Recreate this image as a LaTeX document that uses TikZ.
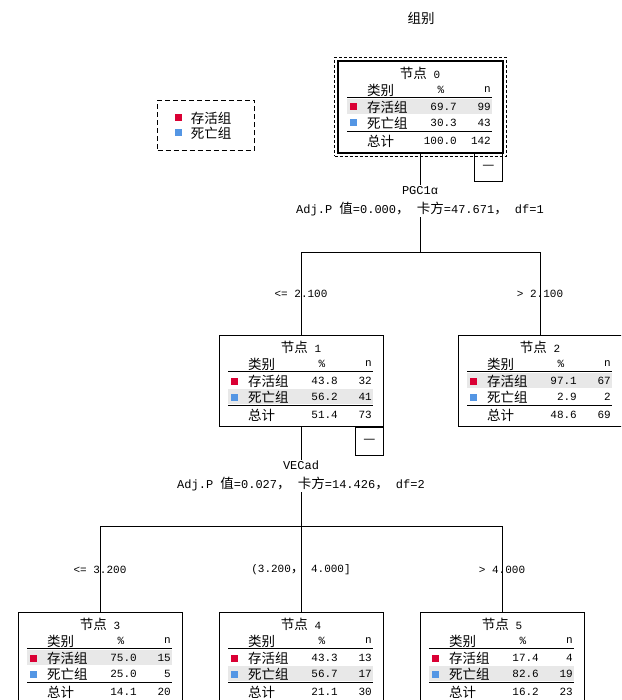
\documentclass[tikz,border=0pt]{standalone}
\usepackage{fontspec}
\setmainfont{Liberation Mono}
\newfontfamily\cjkfont{Noto Sans CJK SC}
\newcommand{\zh}{\cjkfont\fontsize{13.5}{16}\selectfont}
\newcommand{\lat}{\fontsize{11}{13}\selectfont}
\definecolor{SurvRed}{RGB}{218,0,52}
\definecolor{DeadBlue}{RGB}{84,150,228}
\definecolor{RowGray}{RGB}{232,232,232}
\usepackage{tikz}
\usetikzlibrary{positioning, fit, calc}

\tikzset{
  statbox/.style={draw, line width=0.8pt, minimum width=164pt, minimum height=91pt, anchor=north west, inner sep=0pt},
  foldbox/.style={draw, line width=0.8pt, minimum width=28pt, minimum height=28pt, inner sep=0pt, font=\zh},
  swatch/.style={minimum size=7pt, inner sep=0pt},
  cell/.style={inner sep=0pt},
  tabrule/.style={line width=0.8pt},
  edge/.style={line width=0.8pt},
  varlabel/.style={fill=white, align=center, inner sep=1pt, font=\fontsize{12}{19}\selectfont}
}

\begin{document}
\begin{tikzpicture}[x=1pt, y=-1pt, font=\lat]
\useasboundingbox (0,0) rectangle (621,700);
\clip (0,0) rectangle (621,700);

\node[cell, font=\zh] (title) at (421,18) {组别};

\node[draw, dash pattern=on 5pt off 3pt, line width=1pt, minimum width=97pt, minimum height=50pt, anchor=north west] (legend) at (157,100) {};
\node[swatch, fill=SurvRed] (lgA) at (178,118) {};
\node[cell, font=\zh, right=9pt of lgA] (lgAt) {存活组};
\node[swatch, fill=DeadBlue] (lgB) at (178,133) {};
\node[cell, font=\zh, right=9pt of lgB] (lgBt) {死亡组};

\foreach \id/\x/\y/\pa/\na/\pb/\nb/\pt/\nt/\sh in {
  0/338/61/69.7/99/30.3/43/100.0/142/1,
  1/219/335/43.8/32/56.2/41/51.4/73/2,
  2/458/335/97.1/67/2.9/2/48.6/69/1,
  3/18/612/75.0/15/25.0/5/14.1/20/1,
  4/219/612/43.3/13/56.7/17/21.1/30/2,
  5/420/612/17.4/4/82.6/19/16.2/23/2}{
  \begin{scope}[shift={(\x,\y)}]
    \pgfmathsetmacro{\shy}{\sh==1 ? 38 : 54}
    \fill[RowGray] (9,\shy) rectangle (154,{\shy+15});
    \node[statbox] (n\id) at (0,0) {};
    \node[cell] (n\id-title) at (82,12) {{\zh 节点} \id};
    \node[cell, anchor=west, font=\zh] (n\id-cat) at (29,29) {类别};
    \node[cell] (n\id-pct) at (103,29) {\%};
    \node[cell, anchor=east] (n\id-n) at (153,29) {n};
    \draw[tabrule] (9,36) -- (154,36);
    \node[swatch, fill=SurvRed] (n\id-sqa) at (15,46) {};
    \node[cell, anchor=west, font=\zh] (n\id-a) at (29,46) {存活组};
    \node[cell, anchor=east] (n\id-pa) at (119,46) {\pa};
    \node[cell, anchor=east] (n\id-na) at (153,46) {\na};
    \node[swatch, fill=DeadBlue] (n\id-sqb) at (15,62) {};
    \node[cell, anchor=west, font=\zh] (n\id-b) at (29,62) {死亡组};
    \node[cell, anchor=east] (n\id-pb) at (119,62) {\pb};
    \node[cell, anchor=east] (n\id-nb) at (153,62) {\nb};
    \draw[tabrule] (9,70) -- (154,70);
    \node[cell, anchor=west, font=\zh] (n\id-t) at (29,80) {总计};
    \node[cell, anchor=east] (n\id-pt) at (119,80) {\pt};
    \node[cell, anchor=east] (n\id-nt) at (153,80) {\nt};
  \end{scope}}

\node[draw, dash pattern=on 3pt off 2pt, line width=1.1pt, fit=(n0), inner sep=3.5pt] (n0sel) {};
\draw[line width=2.4pt] (n0.north west) rectangle (n0.south east);

\node[foldbox, below left=0pt of n0.south east] (f0) {—};
\node[foldbox, below left=0pt of n1.south east] (f1) {—};

\coordinate[below=100pt of n0.south] (j0);
\coordinate[below=100pt of n1.south] (j1);

\draw[edge] (n0.south) -- (j0);
\draw[edge] (n1.north) |- (j0) -| (n2.north);
\draw[edge] (n1.south) -- (j1);
\draw[edge] (n3.north) |- (j1) -| (n5.north);
\draw[edge] (j1) -- (n4.north);

\node[varlabel] (v0) at (420,201) {PGC1α\\Adj.P {\zh 值}=0.000{\zh ，} {\zh 卡方}=47.671{\zh ，} df=1};
\node[varlabel] (v1) at (301,476) {VECad\\Adj.P {\zh 值}=0.027{\zh ，} {\zh 卡方}=14.426{\zh ，} df=2};

\node[cell] (s1) at (301,294) {<= 2.100};
\node[cell] (s2) at (540,294) {> 2.100};
\node[cell] (s3) at (100,570) {<= 3.200};
\node[cell] (s4) at (301,570) {(3.200{\zh ，} 4.000]};
\node[cell] (s5) at (502,570) {> 4.000};
\end{tikzpicture}
\end{document}
